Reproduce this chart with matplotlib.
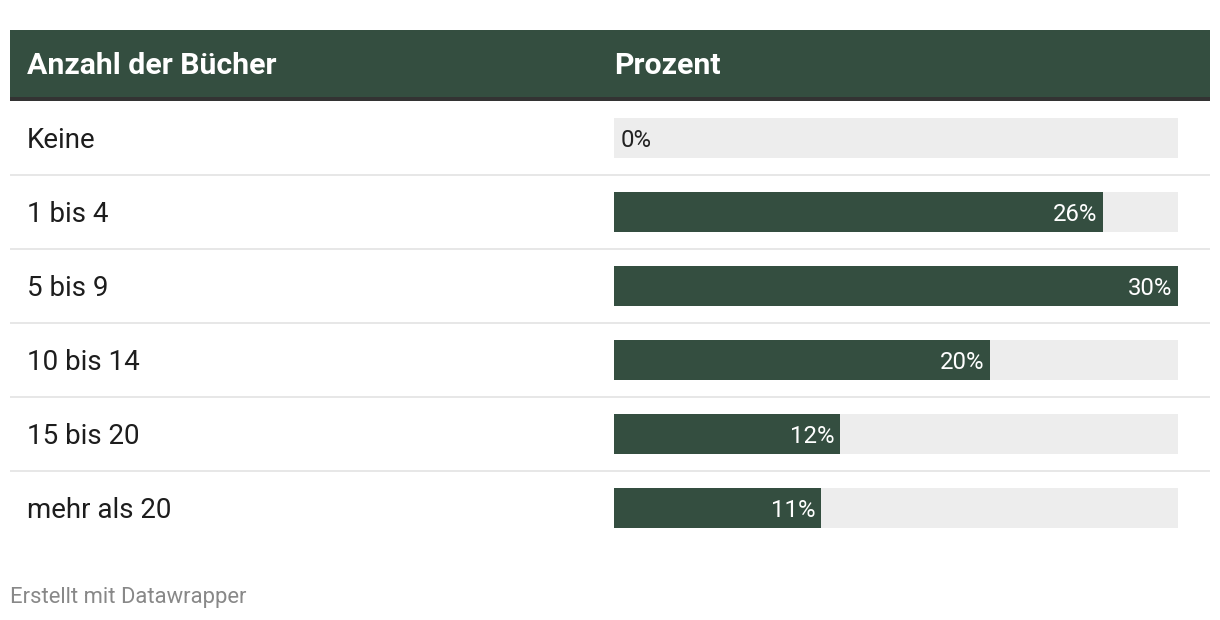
import matplotlib.pyplot as plt
from matplotlib.patches import Rectangle

plt.rcParams['font.family'] = ['Roboto', 'DejaVu Sans']

# Daten
kategorien = ["Keine", "1 bis 4", "5 bis 9", "10 bis 14", "15 bis 20", "mehr als 20"]
prozent = [0, 26, 30, 20, 12, 11]
spalten = ["Anzahl der Bücher", "Prozent"]
quelle = "Erstellt mit Datawrapper"

gruen = "#344e40"
spur = "#ededed"
W, H = 1220, 620

fig = plt.figure(figsize=(W / 100, H / 100), dpi=100)
fig.patch.set_facecolor("white")

# Kopfzeile
fig.add_artist(Rectangle((10 / W, 1 - 97 / H), 1200 / W, 67 / H,
                         transform=fig.transFigure, color=gruen, lw=0))
fig.add_artist(Rectangle((10 / W, 1 - 101 / H), 1200 / W, 4 / H,
                         transform=fig.transFigure, color="#333333", lw=0))
fig.text(27 / W, 1 - 65.5 / H, spalten[0], color="white", fontsize=21.8,
         fontweight="bold", va="center", ha="left")
fig.text(614 / W, 1 - 65.5 / H, spalten[1], color="white", fontsize=21.8,
         fontweight="bold", va="center", ha="left")

n = len(kategorien)
oben, unten = 101, 545
# Tabellen-Achse (Zeilenbeschriftungen und Trennlinien)
ax_tab = fig.add_axes([10 / W, 1 - unten / H, 1200 / W, (unten - oben) / H])
ax_tab.set_xlim(0, 1)
ax_tab.set_ylim(n - 0.5, -0.5)
ax_tab.axis("off")
for i, k in enumerate(kategorien):
    ax_tab.annotate(k, (17 / 1200, i), xytext=(0, -1.5), textcoords="offset points",
                    fontsize=20, color="#1d1d1d", va="center", ha="left")
for i in range(n - 1):
    ax_tab.axhline(i + 0.5, color="#e3e3e3", lw=1.2)

# Balken-Achse
ax = fig.add_axes([614 / W, 1 - unten / H, 564 / W, (unten - oben) / H])
ax.set_xlim(0, max(prozent))
ax.set_ylim(n - 0.5, -0.5)
ax.axis("off")
y = list(range(n))
ax.barh(y, [max(prozent)] * n, height=40 / 74, color=spur, lw=0)
ax.barh(y, prozent, height=40 / 74, color=gruen, lw=0)
for i, v in enumerate(prozent):
    if v == 0:
        ax.annotate(f"{v}%", (0, i), xytext=(4.5, -1.5), textcoords="offset points",
                    ha="left", va="center", fontsize=17.2, color="#222222")
    else:
        ax.annotate(f"{v}%", (v, i), xytext=(-4, -1.5), textcoords="offset points",
                    ha="right", va="center", fontsize=17.2, color="white")

fig.text(10 / W, 1 - 597.5 / H, quelle, fontsize=15.8, color="#888888",
         va="center", ha="left")

fig.savefig("out.png", dpi=100)
